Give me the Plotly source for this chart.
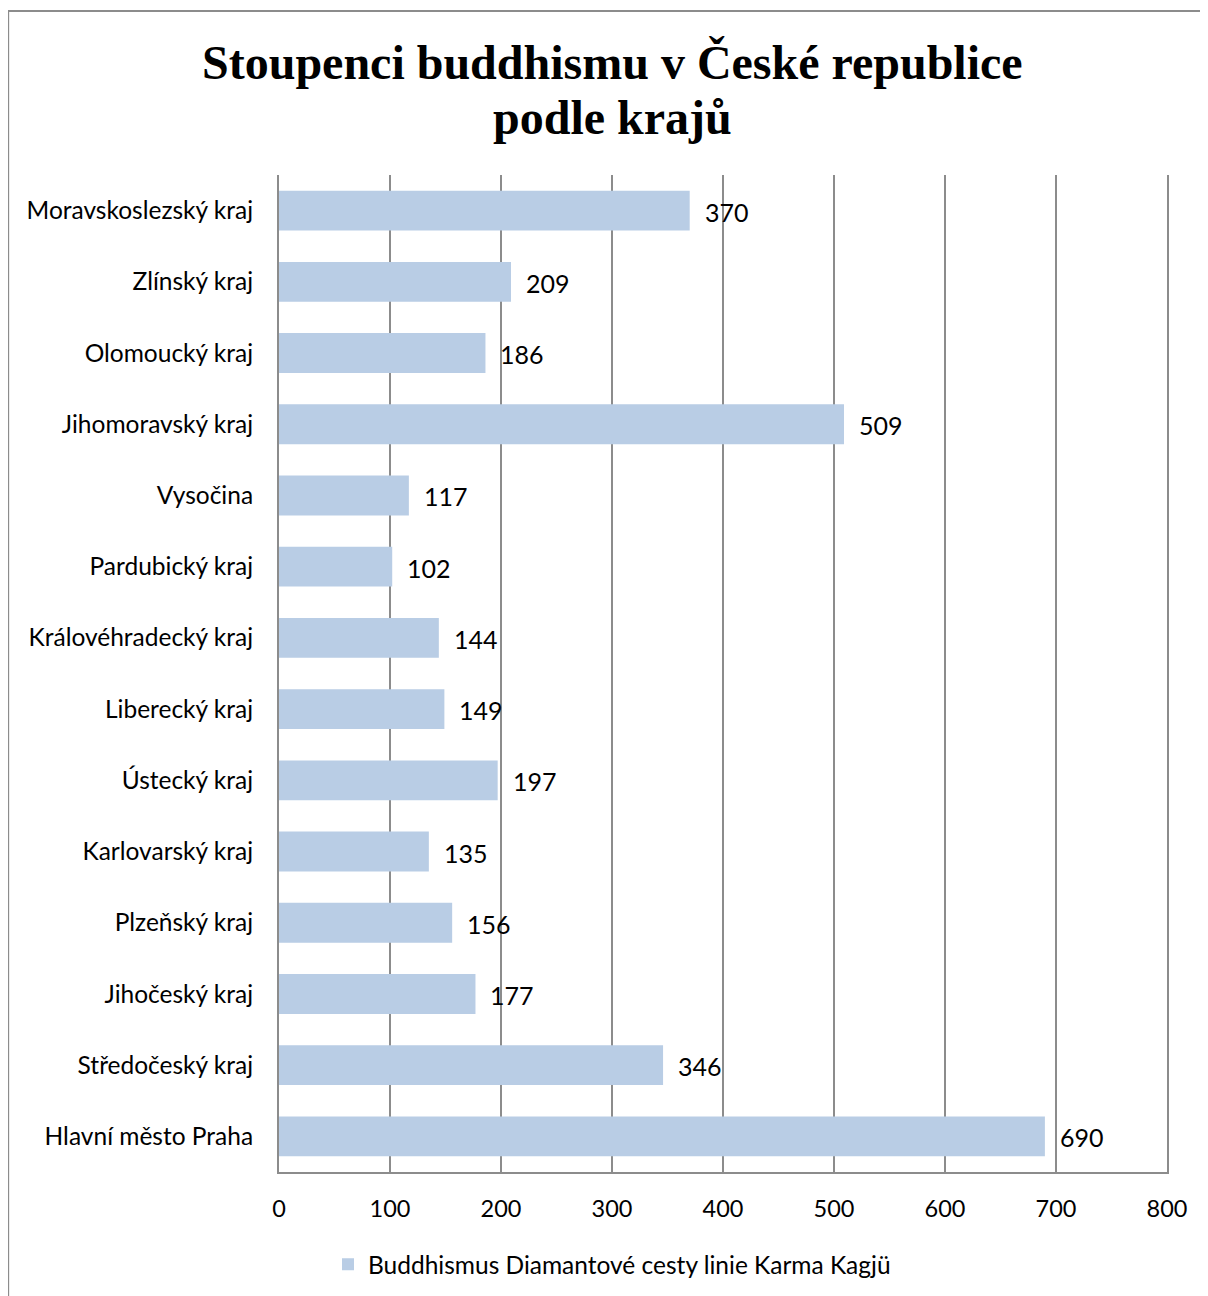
import plotly.graph_objects as go

regions = ["Moravskoslezský kraj", "Zlínský kraj", "Olomoucký kraj", "Jihomoravský kraj",
           "Vysočina", "Pardubický kraj", "Královéhradecký kraj", "Liberecký kraj",
           "Ústecký kraj", "Karlovarský kraj", "Plzeňský kraj", "Jihočeský kraj",
           "Středočeský kraj", "Hlavní město Praha"]
values = [370, 209, 186, 509, 117, 102, 144, 149, 197, 135, 156, 177, 346, 690]
x_ticks = [0, 100, 200, 300, 400, 500, 600, 700, 800]
series_name = "Buddhismus Diamantové cesty linie Karma Kagjü"
title_lines = ["Stoupenci buddhismu v České republice", "podle krajů"]

FONT = "Lato"
BAR = "#B9CDE5"
GRID = "#8C8C8C"

fig = go.Figure()
fig.add_trace(go.Bar(
    x=values, y=regions, orientation="h", name=series_name,
    marker=dict(color=BAR, line=dict(width=0)),
    showlegend=True,
))

for v, r in zip(values, regions):
    fig.add_annotation(x=v, y=r, text=str(v), showarrow=False,
                       xanchor="left", xshift=13, yshift=-1,
                       font=dict(family=FONT, size=25, color="#000000"))

for line, ypos in zip(title_lines, [1.1125, 1.0575]):
    fig.add_annotation(xref="paper", yref="paper", x=0.375, y=ypos,
                       xanchor="center", yanchor="middle", showarrow=False,
                       text="<b>" + line + "</b>",
                       font=dict(family="Liberation Serif", size=48, color="#000000"))

fig.add_shape(type="rect", xref="paper", yref="paper",
              x0=-0.305, x1=1.06, y0=-0.14, y1=1.1645,
              line=dict(color="#8C8C8C", width=2), fillcolor="rgba(0,0,0,0)", layer="below")

fig.update_layout(
    width=1208, height=1296,
    margin=dict(l=271, r=49, t=167, b=132),
    paper_bgcolor="white", plot_bgcolor="white",
    bargap=0.44,
    font=dict(family=FONT, size=24, color="#000000"),
    xaxis=dict(range=[0, 800], tickvals=x_ticks, showgrid=True, gridcolor=GRID, gridwidth=2,
               showline=True, linecolor=GRID, linewidth=2, zeroline=False,
               ticks="", ticklabelstandoff=15, tickfont=dict(family=FONT, size=23.5)),
    yaxis=dict(categoryorder="array", categoryarray=regions, autorange="reversed",
               showline=True, mirror=True, linecolor=GRID, linewidth=2, showgrid=False,
               ticks="", ticklabelstandoff=19, tickfont=dict(family=FONT, size=24.5)),
    legend=dict(orientation="h", x=0.375, xanchor="center", y=-0.07, yanchor="top",
                font=dict(family=FONT, size=24.5), itemwidth=30),
)

fig.write_html("out.html")
